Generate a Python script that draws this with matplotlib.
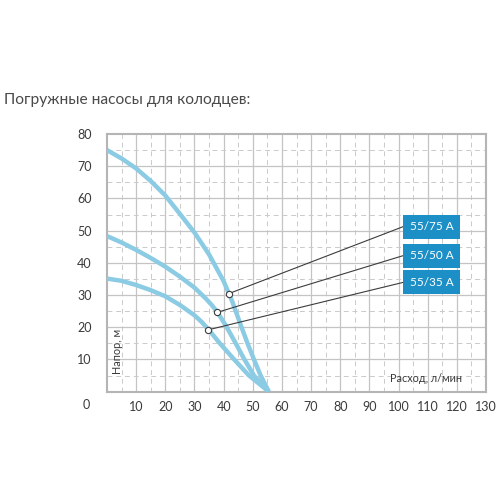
import matplotlib
matplotlib.use("Agg")
import matplotlib.pyplot as plt
import numpy as np

# flow (l/min) vs head (m)
flow_75 = [0, 5, 10, 15, 20, 25, 30, 35, 40, 43, 45.9, 48.2, 50.4, 52.7, 55.5]
head_75 = [75, 72.4, 69.3, 65.4, 60.9, 55.2, 49.4, 42.6, 34.3, 27.9, 20.6, 15, 10, 5, 0]

flow_50 = [0, 5, 10, 15, 20, 25, 30, 34, 36, 37.9, 40.7, 43.9, 47, 50.4, 55.5]
head_50 = [48.3, 46.3, 44, 41.5, 38.8, 35.7, 32.3, 28.8, 26.8, 24.6, 20.6, 15.4, 10.2, 5, 0]

flow_35 = [0, 5, 10, 15, 20, 25, 30, 32.5, 35, 38.5, 43.6, 48.7, 55.5]
head_35 = [35.1, 34.4, 33.1, 31.5, 29.6, 26.9, 23.7, 21.6, 19.1, 15.2, 10, 5, 0]

series_names = ["55/75 A", "55/50 A", "55/35 A"]
marker_pts = [(41.7, 30.4), (37.8, 24.6), (34.8, 19.2)]
label_y = [51.2, 42.2, 33.9]

x_ticks = list(range(10, 140, 10))
y_ticks = list(range(10, 90, 10))

curve_color = "#8bcbe3"
box_color = "#1b8fc6"
text_color = "#3a3a3a"

plt.rcParams['font.family'] = ['Lato', 'DejaVu Sans']

fig = plt.figure(figsize=(5, 5), dpi=100)
ax = fig.add_axes([0.214, 0.2168, 0.758, 0.5152])
ax.set_xlim(0, 130)
ax.set_ylim(0, 80)

# сетка: сплошная через 10, пунктир через 5
for v in np.arange(5, 130, 5):
    if v % 10 == 0:
        ax.axvline(v, color="#c4c4c4", lw=0.9, zorder=1)
    else:
        ax.axvline(v, color="#cacaca", lw=0.7, ls=(0, (5, 4)), zorder=1)
for v in np.arange(5, 80, 5):
    if v % 10 == 0:
        ax.axhline(v, color="#c4c4c4", lw=0.9, zorder=1)
    else:
        ax.axhline(v, color="#cacaca", lw=0.7, ls=(0, (5, 4)), zorder=1)

for s in ax.spines.values():
    s.set_color("#b5b5b5")
    s.set_linewidth(1.5)

ax.set_xticks(x_ticks)
ax.set_yticks(y_ticks)
ax.tick_params(length=0, labelsize=9, labelcolor=text_color)
ax.tick_params(axis="x", pad=7)
ax.tick_params(axis="y", pad=11)
ax.text(-6.0, -4.2, "0", fontsize=9, color=text_color, ha="right", va="center",
        clip_on=False)

for fx, hy in [(flow_75, head_75), (flow_50, head_50), (flow_35, head_35)]:
    ax.plot(fx, hy, color=curve_color, lw=3.2, solid_capstyle="butt",
            solid_joinstyle="round", zorder=3)

for name, (mx, my), ly in zip(series_names, marker_pts, label_y):
    ax.plot([mx, 101.5], [my, ly], color="#3c3c3c", lw=0.8, zorder=4)
    ax.plot(mx, my, "o", ms=4.5, mfc="white", mec="#3c3c3c", mew=0.8, zorder=5)
    ax.text(103.8, ly, name, color="white", fontsize=8.5, ha="left", va="center",
            zorder=6,
            bbox=dict(boxstyle="square,pad=0.55", fc=box_color, ec="none"))

ax.text(97.2, 4.2, "Расход, л/мин", fontsize=7.8, color=text_color,
        ha="left", va="center", zorder=6)
ax.text(3.6, 12.6, "Напор, м", fontsize=7.8, color=text_color, rotation=90,
        ha="center", va="center", zorder=6)

fig.text(0.008, 0.8, "Погружные насосы для колодцев:", fontsize=11.2,
         color="#4a4a4a", ha="left", va="center")

fig.savefig("out.png", dpi=100)
